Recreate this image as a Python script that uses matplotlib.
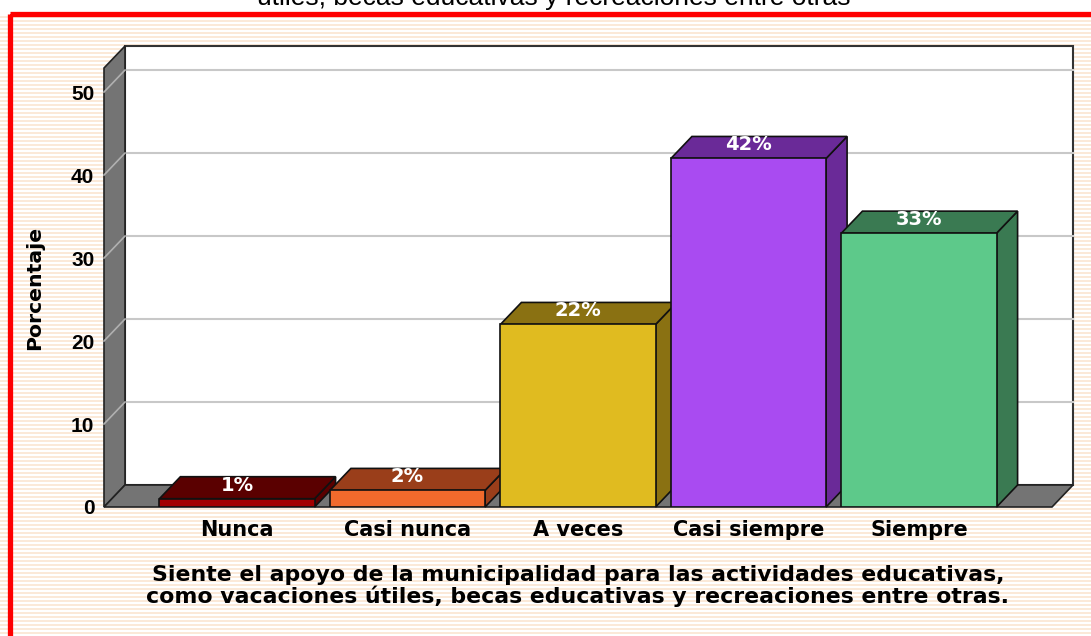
import numpy as np
import matplotlib.pyplot as plt
from matplotlib.patches import Polygon, Rectangle

categorias = ['Nunca', 'Casi nunca', 'A veces', 'Casi siempre', 'Siempre']
porcentajes = [1, 2, 22, 42, 33]
etiquetas = ['1%', '2%', '22%', '42%', '33%']
color_frente = ['#a30000', '#f26a2c', '#e0bb20', '#a94bf1', '#5dc98a']
color_lado = ['#5a0000', '#9a3e1a', '#8a7112', '#6a2a98', '#3a7a52']
yticks = [0, 10, 20, 30, 40, 50]

titulo = 'útiles, becas educativas y recreaciones entre otras'
xlabel = ('Siente el apoyo de la municipalidad para las actividades educativas,\n'
          'como vacaciones útiles, becas educativas y recreaciones entre otras.')

W, H = 1091, 636
fig = plt.figure(figsize=(W / 100, H / 100), dpi=100)

# fondo rayado y marco rojo
bg = fig.add_axes([0, 0, 1, 1])
bg.set_xlim(0, W)
bg.set_ylim(H, 0)
bg.axis('off')
filas = np.arange(H)
rayas = np.ones((H, 1, 3))
peach = np.array([251, 233, 216]) / 255
mask = ((filas // 2) % 2 == 0) & (filas > 14)
rayas[mask, 0, :] = peach
bg.imshow(rayas, extent=(0, W, H, 0), aspect='auto', interpolation='nearest')
bg.add_patch(Rectangle((9.5, 13.5), W, H, fill=False, edgecolor='#ff0000', lw=3.8))
# titulo cortado en el borde superior, como en el original
fig.text(554 / W, 1 - 4.5 / H, titulo, ha='center', va='baseline',
         fontsize=19, family='Liberation Sans')

# ejes principales (plano frontal)
ax = fig.add_axes([104 / W, (H - 507) / H, (1052 - 104) / W, (507 - 68) / H])
ax.set_xlim(-0.78, 4.78)
ax.set_ylim(0, 52.9)
ax.patch.set_alpha(0)
for s in ax.spines.values():
    s.set_visible(False)
xmin, xmax = ax.get_xlim()
ymin, ymax = ax.get_ylim()
DX = 21 / 170.5
DY = 22 / 8.3

# pared del fondo
ax.add_patch(Rectangle((xmin + DX, DY), xmax - xmin, ymax, facecolor='white',
                       edgecolor='#333333', lw=1.5, zorder=0.5, clip_on=False))
for v in yticks[1:]:
    ax.plot([xmin + DX, xmax + DX], [v + DY, v + DY], color='#c8c8c8', lw=1.5,
            zorder=0.6, clip_on=False)
# pared izquierda y piso
ax.add_patch(Polygon([(xmin, 0), (xmin, ymax), (xmin + DX, ymax + DY), (xmin + DX, DY)],
                     closed=True, facecolor='#747474', edgecolor='#222222', lw=1.2,
                     zorder=0.7, clip_on=False))
for v in yticks[1:]:
    ax.plot([xmin, xmin + DX], [v, v + DY], color='#b0b0b0', lw=1.2,
            zorder=0.8, clip_on=False)
ax.add_patch(Polygon([(xmin, 0), (xmax, 0), (xmax + DX, DY), (xmin + DX, DY)],
                     closed=True, facecolor='#747474', edgecolor='#222222', lw=1.2,
                     zorder=0.9, clip_on=False))

# barras 3D
x = np.arange(len(categorias))
w = 0.91
barras = ax.bar(x, porcentajes, width=w, color=color_frente, edgecolor='#111111', lw=1.2)
for i, (b, v) in enumerate(zip(barras, porcentajes)):
    z = 2 + i * 0.1
    b.set_zorder(z + 0.05)
    l, r = x[i] - w / 2, x[i] + w / 2
    ax.add_patch(Polygon([(r, 0), (r + DX, DY), (r + DX, v + DY), (r, v)], closed=True,
                         facecolor=color_lado[i], edgecolor='#111111', lw=1.2,
                         zorder=z, clip_on=False))
    ax.add_patch(Polygon([(l, v), (r, v), (r + DX, v + DY), (l + DX, v + DY)], closed=True,
                         facecolor=color_lado[i], edgecolor='#111111', lw=1.2,
                         zorder=z, clip_on=False))
    ax.text(x[i], v + DY * 0.62, etiquetas[i], ha='center', va='center', color='white',
            fontsize=14, fontweight='bold', zorder=5)

ax.set_xticks(x)
ax.set_xticklabels(categorias, fontsize=15, fontweight='bold')
ax.set_yticks(yticks)
ax.set_yticklabels([str(t) for t in yticks], fontsize=15, fontweight='bold',
                   family='Liberation Sans')
ax.tick_params(length=0)
ax.tick_params(axis='x', pad=9)
ax.tick_params(axis='y', pad=7)

ax.set_ylabel('Porcentaje', fontsize=14.7, fontweight='bold', va='center')
ax.yaxis.set_label_coords(-0.073, 0.5)
ax.set_xlabel(xlabel, fontsize=15.8, fontweight='bold', linespacing=1.0)
ax.xaxis.set_label_coords(0.5, -0.18)
ax.xaxis.label.set_va('center')

fig.savefig('out.png', dpi=100)
